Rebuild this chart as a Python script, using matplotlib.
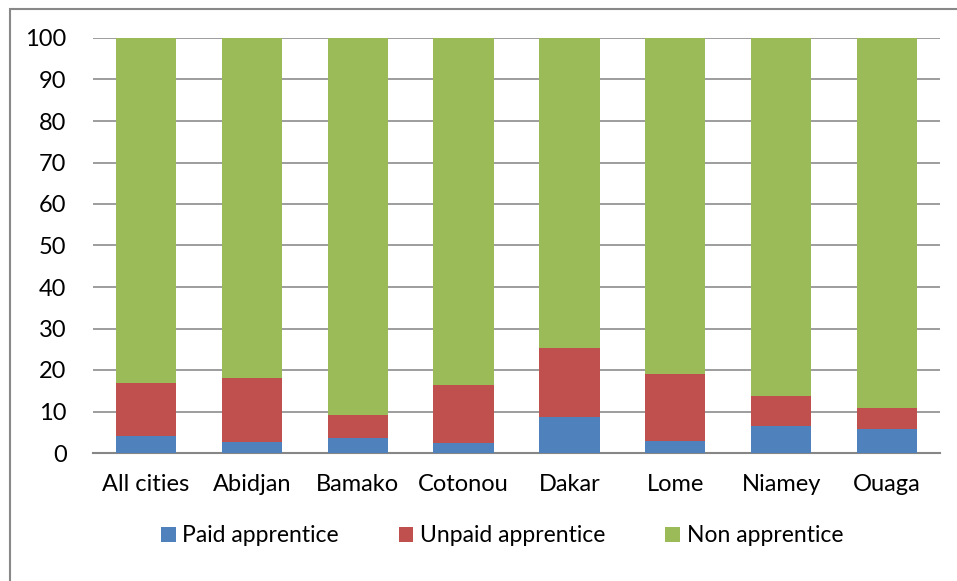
import matplotlib.pyplot as plt
from matplotlib.patches import Rectangle

plt.rcParams['font.family'] = ['Lato', 'DejaVu Sans']

cities = ['All cities', 'Abidjan', 'Bamako', 'Cotonou', 'Dakar', 'Lome', 'Niamey', 'Ouaga']
paid = [4.0, 2.7, 3.5, 2.5, 8.7, 3.0, 6.5, 5.8]
unpaid_top = [16.9, 18.0, 9.1, 16.4, 25.3, 19.0, 13.7, 10.9]
unpaid = [t - p for t, p in zip(unpaid_top, paid)]
non_app = [100 - t for t in unpaid_top]

fig = plt.figure(figsize=(9.57, 5.81), dpi=100)
ax = fig.add_axes([93 / 957, 1 - 453 / 581, (940 - 93) / 957, (453 - 38) / 581])

# outer chart border (only left/top visible in the original crop)
fig.patches.append(Rectangle((10 / 957, -0.1), 1.2, 1 - 9 / 581 + 0.1,
                             transform=fig.transFigure, fill=False,
                             edgecolor='#888888', linewidth=1.5))

x = range(len(cities))
w = 0.57
ax.bar(x, paid, w, color='#4F81BD', label='Paid apprentice', zorder=3)
ax.bar(x, unpaid, w, bottom=paid, color='#C0504D', label='Unpaid apprentice', zorder=3)
ax.bar(x, non_app, w, bottom=unpaid_top, color='#9BBB59', label='Non apprentice', zorder=3)

ax.set_xlim(-0.5, len(cities) - 0.5)
ax.set_ylim(0, 100)
ax.set_yticks(range(0, 101, 10))
ax.set_xticks(list(x))
ax.set_xticklabels(cities)
ax.grid(axis='y', color='#8c8c8c', linewidth=1.2, zorder=0)
for s in ['top', 'right', 'left']:
    ax.spines[s].set_visible(False)
ax.spines['bottom'].set_color('#868686')
ax.spines['bottom'].set_linewidth(1.5)
ax.tick_params(axis='both', length=0, labelsize=17)
ax.tick_params(axis='x', pad=15)
ax.tick_params(axis='y', pad=19)

ax.legend(loc='center', bbox_to_anchor=(0.483, -(536 - 453) / 415), ncol=3, frameon=False,
          fontsize=16.5, handlelength=0.65, handleheight=0.65, handletextpad=0.3,
          columnspacing=2.6)

fig.savefig('out.png', dpi=100)
